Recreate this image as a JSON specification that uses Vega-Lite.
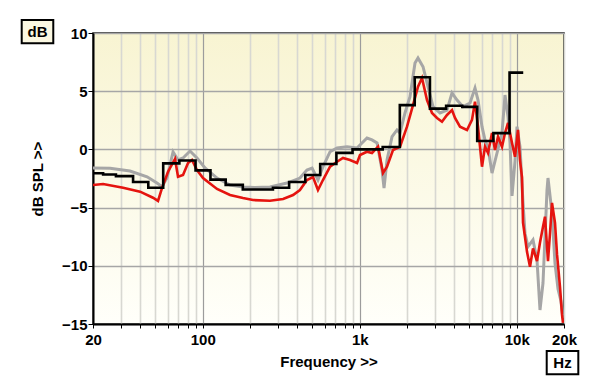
{
  "$schema": "https://vega.github.io/schema/vega-lite/v6.json",
  "width": 471,
  "height": 291,
  "autosize": {"type": "none"},
  "padding": {"left": 93, "top": 33, "right": 36, "bottom": 63},
  "background": "#ffffff",
  "config": {
    "view": {
      "fill": {"gradient": "linear", "x1": 0, "y1": 0, "x2": 0, "y2": 1, "stops": [{"offset": 0, "color": "#f8f4d2"}, {"offset": 1, "color": "#fffffa"}]},
      "stroke": "#111111",
      "strokeWidth": 1.5
    },
    "axis": {
      "labelFont": "Liberation Sans",
      "labelFontWeight": "bold",
      "labelFontSize": 15,
      "labelColor": "#000000",
      "titleFont": "Liberation Sans",
      "titleFontWeight": "bold",
      "titleFontSize": 15,
      "titleColor": "#000000",
      "domainColor": "#000000",
      "domainWidth": 2,
      "tickColor": "#000000",
      "tickSize": 5
    }
  },
  "datasets": {
    "gray": [
      {"f": 20, "db": -1.6}, {"f": 25.7, "db": -1.62}, {"f": 34.4, "db": -1.86}, {"f": 44.2, "db": -2.35}, {"f": 51.1, "db": -2.89}, {"f": 55.0, "db": -3.2}, {"f": 59.2, "db": -2.46}, {"f": 64.7, "db": -0.22}, {"f": 69.6, "db": -0.91}, {"f": 74.9, "db": -0.74}, {"f": 83.0, "db": -0.14}, {"f": 91.9, "db": -0.74}, {"f": 103.4, "db": -1.6}, {"f": 123.3, "db": -2.46}, {"f": 149.2, "db": -3.06}, {"f": 180.5, "db": -3.23}, {"f": 215, "db": -3.27}, {"f": 268, "db": -3.23}, {"f": 344, "db": -2.89}, {"f": 416, "db": -2.46}, {"f": 461, "db": -1.77}, {"f": 497, "db": -1.6}, {"f": 542, "db": -2.63}, {"f": 583, "db": -1.49}, {"f": 647, "db": -0.2}, {"f": 717, "db": 0.12}, {"f": 830, "db": 0.23}, {"f": 961, "db": 0.12}, {"f": 1112, "db": 0.98}, {"f": 1197, "db": 0.81}, {"f": 1289, "db": 0.55}, {"f": 1387, "db": -1.77}, {"f": 1428, "db": -3.32}, {"f": 1492, "db": -0.91}, {"f": 1606, "db": 1.09}, {"f": 1727, "db": 1.67}, {"f": 1805, "db": 1.41}, {"f": 1942, "db": 3.13}, {"f": 2090, "db": 4.53}, {"f": 2249, "db": 7.42}, {"f": 2350, "db": 7.86}, {"f": 2530, "db": 7.1}, {"f": 2722, "db": 5.39}, {"f": 2929, "db": 3.67}, {"f": 3246, "db": 3.13}, {"f": 3596, "db": 3.38}, {"f": 3870, "db": 4.85}, {"f": 4164, "db": 4.24}, {"f": 4548, "db": 3.67}, {"f": 5040, "db": 3.99}, {"f": 5422, "db": 5.27}, {"f": 5666, "db": 4.24}, {"f": 6008, "db": 1.95}, {"f": 6280, "db": 0.81}, {"f": 6562, "db": 0.12}, {"f": 6958, "db": -2.03}, {"f": 7488, "db": -0.31}, {"f": 8058, "db": 1.41}, {"f": 8420, "db": 4.67}, {"f": 8800, "db": 2.81}, {"f": 9062, "db": 0.55}, {"f": 9332, "db": -4.0}, {"f": 9750, "db": -1.0}, {"f": 10040, "db": 1.95}, {"f": 10488, "db": 0.23}, {"f": 10964, "db": -4.6}, {"f": 11290, "db": -7.2}, {"f": 11798, "db": -8.36}, {"f": 12694, "db": -7.78}, {"f": 13460, "db": -9.5}, {"f": 14066, "db": -13.8}, {"f": 14698, "db": -11.48}, {"f": 15586, "db": -3.5}, {"f": 15816, "db": -2.46}, {"f": 16776, "db": -5.5}, {"f": 17528, "db": -9.8}, {"f": 18316, "db": -12.0}, {"f": 19100, "db": -13.0}, {"f": 19708, "db": -14.5}
    ],
    "red": [
      {"f": 20, "db": -3.06}, {"f": 23.2, "db": -2.97}, {"f": 31.1, "db": -3.29}, {"f": 39.9, "db": -3.63}, {"f": 48.2, "db": -4.15}, {"f": 51.9, "db": -4.43}, {"f": 55.0, "db": -3.32}, {"f": 60.1, "db": -1.92}, {"f": 66.6, "db": -0.82}, {"f": 69.6, "db": -2.35}, {"f": 74.9, "db": -2.2}, {"f": 80.6, "db": -1.17}, {"f": 85.4, "db": -0.91}, {"f": 91.9, "db": -1.77}, {"f": 100.4, "db": -2.46}, {"f": 123.3, "db": -3.4}, {"f": 149.2, "db": -3.92}, {"f": 180.5, "db": -4.18}, {"f": 209, "db": -4.35}, {"f": 268, "db": -4.41}, {"f": 325, "db": -4.26}, {"f": 376, "db": -3.92}, {"f": 416, "db": -3.49}, {"f": 461, "db": -2.63}, {"f": 504, "db": -2.37}, {"f": 542, "db": -3.49}, {"f": 583, "db": -2.63}, {"f": 647, "db": -1.49}, {"f": 717, "db": -1.06}, {"f": 782, "db": -0.74}, {"f": 867, "db": -0.91}, {"f": 961, "db": -1.17}, {"f": 1004, "db": -0.48}, {"f": 1112, "db": -0.2}, {"f": 1197, "db": -0.31}, {"f": 1308, "db": 0.23}, {"f": 1407, "db": -2.03}, {"f": 1492, "db": -1.49}, {"f": 1629, "db": -0.05}, {"f": 1805, "db": 0.23}, {"f": 2000, "db": 1.95}, {"f": 2184, "db": 3.81}, {"f": 2350, "db": 5.39}, {"f": 2492, "db": 6.13}, {"f": 2682, "db": 4.24}, {"f": 2886, "db": 3.13}, {"f": 3106, "db": 2.7}, {"f": 3342, "db": 2.38}, {"f": 3596, "db": 2.96}, {"f": 3870, "db": 3.38}, {"f": 4044, "db": 2.7}, {"f": 4352, "db": 1.95}, {"f": 4822, "db": 1.67}, {"f": 5188, "db": 2.53}, {"f": 5422, "db": 4.1}, {"f": 5666, "db": 1.95}, {"f": 6008, "db": -1.49}, {"f": 6280, "db": 0.23}, {"f": 6562, "db": -0.31}, {"f": 6958, "db": 1.41}, {"f": 7272, "db": -0.05}, {"f": 7598, "db": 1.09}, {"f": 8058, "db": 0.23}, {"f": 8420, "db": 1.41}, {"f": 8800, "db": 2.27}, {"f": 9332, "db": 0.55}, {"f": 9750, "db": -0.63}, {"f": 10186, "db": 1.67}, {"f": 10488, "db": -0.91}, {"f": 10800, "db": -2.4}, {"f": 10964, "db": -6.3}, {"f": 11626, "db": -8.8}, {"f": 12148, "db": -10.08}, {"f": 12694, "db": -8.5}, {"f": 13460, "db": -9.6}, {"f": 14066, "db": -8.0}, {"f": 14698, "db": -6.64}, {"f": 15136, "db": -5.78}, {"f": 15816, "db": -9.6}, {"f": 16292, "db": -7.18}, {"f": 16776, "db": -4.6}, {"f": 17528, "db": -6.32}, {"f": 18050, "db": -9.0}, {"f": 18858, "db": -11.8}, {"f": 19424, "db": -14.2}, {"f": 19708, "db": -14.91}
    ],
    "black": [
      {"f": 20, "db": -2.05}, {"f": 23.2, "db": -2.15}, {"f": 28, "db": -2.3}, {"f": 36, "db": -2.8}, {"f": 45, "db": -3.3}, {"f": 56, "db": -1.2}, {"f": 71, "db": -0.95}, {"f": 90, "db": -1.8}, {"f": 112, "db": -2.6}, {"f": 140, "db": -3.05}, {"f": 180, "db": -3.45}, {"f": 280, "db": -3.3}, {"f": 355, "db": -2.8}, {"f": 450, "db": -2.2}, {"f": 560, "db": -1.25}, {"f": 710, "db": -0.3}, {"f": 900, "db": 0.0}, {"f": 1400, "db": 0.2}, {"f": 1800, "db": 3.8}, {"f": 2240, "db": 6.2}, {"f": 2800, "db": 3.5}, {"f": 3550, "db": 3.75}, {"f": 4500, "db": 3.65}, {"f": 5600, "db": 0.72}, {"f": 7100, "db": 1.4}, {"f": 9000, "db": 6.6}, {"f": 11000, "db": 6.6}
    ]
  },
  "layer": [
    {
      "data": {"name": "gray"},
      "mark": {"type": "line", "color": "#a6a6a6", "strokeWidth": 3, "clip": true},
      "encoding": {
        "x": {
          "field": "f", "type": "quantitative",
          "scale": {"type": "log", "domain": [20, 20000], "nice": false},
          "axis": {
            "title": "Frequency >>",
            "titlePadding": 7,
            "values": [20, 30, 40, 50, 60, 70, 80, 90, 100, 200, 300, 400, 500, 600, 700, 800, 900, 1000, 2000, 3000, 4000, 5000, 6000, 7000, 8000, 9000, 10000, 20000],
            "labelExpr": "datum.value == 20 ? '20' : datum.value == 100 ? '100' : datum.value == 1000 ? '1k' : datum.value == 10000 ? '10k' : datum.value == 20000 ? '20k' : ''",
            "labelPadding": 4,
            "labelFlush": false,
            "labelOverlap": false,
            "grid": true,
            "gridColor": {"condition": {"test": "datum.value == 100 || datum.value == 1000 || datum.value == 10000", "value": "#9c9c9c"}, "value": "#d8d8d2"},
            "gridWidth": {"condition": {"test": "datum.value == 100 || datum.value == 1000 || datum.value == 10000", "value": 1.2}, "value": 1.6},
            "tickSize": 4
          }
        },
        "y": {
          "field": "db", "type": "quantitative",
          "scale": {"domain": [-15, 10], "nice": false, "zero": false},
          "axis": {
            "title": "dB SPL >>",
            "titlePadding": 16,
            "values": [-15, -10, -5, 0, 5, 10],
            "labelPadding": 1,
            "grid": true,
            "gridColor": "#a6a6a6",
            "gridWidth": 1.5
          }
        }
      }
    },
    {
      "data": {"name": "red"},
      "mark": {"type": "line", "color": "#e5140f", "strokeWidth": 2.6, "clip": true},
      "encoding": {
        "x": {"field": "f", "type": "quantitative", "scale": {"type": "log", "domain": [20, 20000], "nice": false}},
        "y": {"field": "db", "type": "quantitative", "scale": {"domain": [-15, 10], "nice": false, "zero": false}}
      }
    },
    {
      "data": {"name": "black"},
      "mark": {"type": "line", "color": "#000000", "strokeWidth": 2.6, "interpolate": "step-after", "clip": true},
      "encoding": {
        "x": {"field": "f", "type": "quantitative", "scale": {"type": "log", "domain": [20, 20000], "nice": false}},
        "y": {"field": "db", "type": "quantitative", "scale": {"domain": [-15, 10], "nice": false, "zero": false}}
      }
    },
    {
      "data": {"values": [{"label": "dB"}]},
      "mark": {"type": "rect", "fill": "#fbf8e2", "stroke": "#000000", "strokeWidth": 2},
      "encoding": {
        "x": {"datum": 7.03, "type": "quantitative", "scale": {"type": "log", "domain": [20, 20000], "nice": false}},
        "x2": {"datum": 11.17},
        "y": {"datum": 9.12, "type": "quantitative", "scale": {"domain": [-15, 10], "nice": false, "zero": false}},
        "y2": {"datum": 11.12}
      }
    },
    {
      "data": {"values": [{"label": "dB"}]},
      "mark": {"type": "text", "font": "Liberation Sans", "fontWeight": "bold", "fontSize": 15, "color": "#000000", "align": "center", "baseline": "middle"},
      "encoding": {
        "x": {"datum": 8.86, "type": "quantitative", "scale": {"type": "log", "domain": [20, 20000], "nice": false}},
        "y": {"datum": 10.12, "type": "quantitative", "scale": {"domain": [-15, 10], "nice": false, "zero": false}},
        "text": {"field": "label"}
      }
    },
    {
      "data": {"values": [{"label": "Hz"}]},
      "mark": {"type": "rect", "fill": "#ffffff", "stroke": "#000000", "strokeWidth": 2},
      "encoding": {
        "x": {"datum": 15520, "type": "quantitative", "scale": {"type": "log", "domain": [20, 20000], "nice": false}},
        "x2": {"datum": 24670},
        "y": {"datum": -17.32, "type": "quantitative", "scale": {"domain": [-15, 10], "nice": false, "zero": false}},
        "y2": {"datum": -19.32}
      }
    },
    {
      "data": {"values": [{"label": "Hz"}]},
      "mark": {"type": "text", "font": "Liberation Sans", "fontWeight": "bold", "fontSize": 15, "color": "#000000", "align": "center", "baseline": "middle"},
      "encoding": {
        "x": {"datum": 19560, "type": "quantitative", "scale": {"type": "log", "domain": [20, 20000], "nice": false}},
        "y": {"datum": -18.33, "type": "quantitative", "scale": {"domain": [-15, 10], "nice": false, "zero": false}},
        "text": {"field": "label"}
      }
    }
  ]
}
